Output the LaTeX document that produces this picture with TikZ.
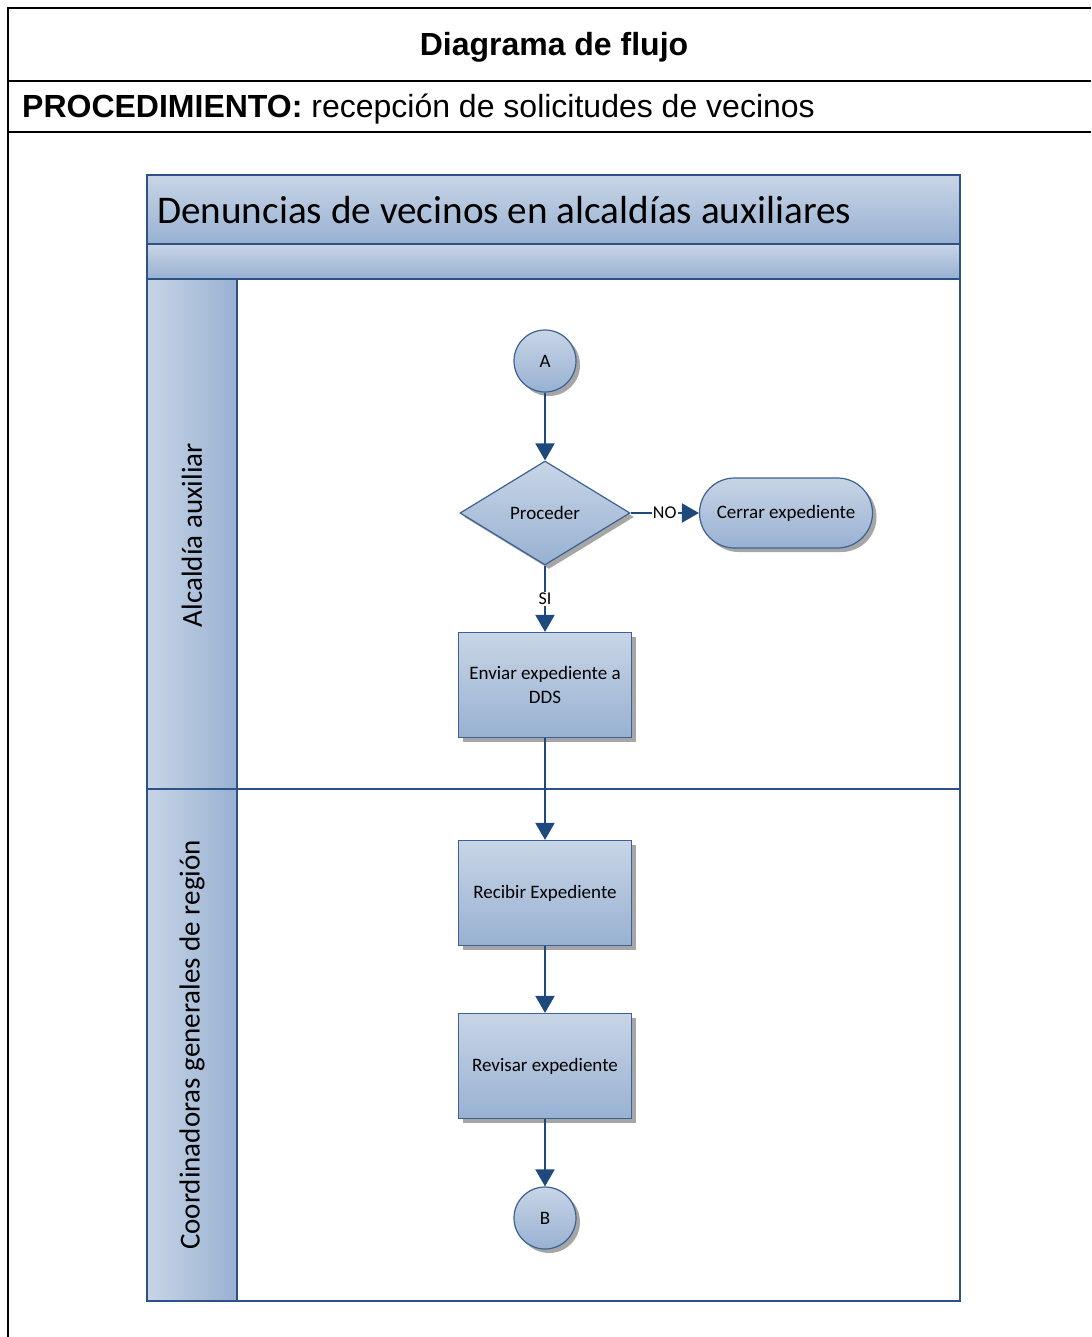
\documentclass[tikz,border=0pt]{standalone}
\usepackage{fontspec}
\setmainfont{Liberation Sans}
\newfontfamily\calfont{Carlito}
\usetikzlibrary{shapes.geometric,shadows,arrows.meta}

\definecolor{poolline}{HTML}{2E5287}
\definecolor{shadeTop}{HTML}{C8D5E6}
\definecolor{shadeBot}{HTML}{98B1D2}
\definecolor{flowblue}{HTML}{1F497D}
\definecolor{shapeline}{HTML}{3C6192}

\tikzset{
  frame/.style={line width=2.2pt, black},
  lanebox/.style={draw=poolline, line width=2pt},
  shapebase/.style={draw=shapeline, line width=1.2pt, top color=shadeTop, bottom color=shadeBot,
    drop shadow={shadow xshift=4pt, shadow yshift=-4pt, fill=black!35, opacity=1},
    font=\calfont\fontsize{19}{24}\selectfont, align=center, inner sep=2pt},
  procbox/.style={shapebase, rectangle, minimum width=173pt, minimum height=105pt},
  terminal/.style={shapebase, rectangle, rounded corners=35pt, minimum width=173pt, minimum height=70pt},
  connector/.style={shapebase, circle, minimum size=62pt, inner sep=0pt},
  decision/.style={shapebase, diamond, minimum width=170pt, minimum height=104pt, inner sep=0pt},
  flow/.style={draw=flowblue, line width=2pt, -{Triangle[width=19pt,length=17pt]}},
  flowlabel/.style={fill=white, inner sep=1pt, font=\calfont\fontsize{18}{20}\selectfont},
  lanelabel/.style={rotate=90, font=\calfont\fontsize{29}{34}\selectfont}
}

\begin{document}
\begin{tikzpicture}[x=1pt,y=-1pt]
\useasboundingbox (0,0) rectangle (1091,1337);

% document frame with heading rows
\draw[frame] (8,1337) -- (8,8) -- (1091,8);
\draw[frame] (8,81) -- (1091,81);
\draw[frame] (8,132) -- (1091,132);
\node[font=\bfseries\fontsize{32}{36}\selectfont] (heading) at (554,47) {Diagrama de flujo};
\node[anchor=west, inner sep=0pt, font=\fontsize{32}{36}\selectfont] (procname) at (22,109)
  {\textbf{PROCEDIMIENTO:} recepción de solicitudes de vecinos};

% swimlane pool
\shade[top color=shadeTop, bottom color=shadeBot] (147,175) rectangle (960,244);
\shade[top color=shadeTop, bottom color=shadeBot] (147,244) rectangle (960,279);
\shade[left color=shadeTop, right color=shadeBot] (147,279) rectangle (237,789);
\shade[left color=shadeTop, right color=shadeBot] (147,789) rectangle (237,1301);
\draw[lanebox] (147,175) rectangle (960,1301);
\draw[lanebox] (147,244) -- (960,244);
\draw[lanebox] (147,279) -- (960,279);
\draw[lanebox] (147,789) -- (960,789);
\draw[lanebox] (237,279) -- (237,1301);

\node[anchor=west, inner sep=0pt, font=\calfont\fontsize{39.2}{46}\selectfont] (pooltitle) at (157,210)
  {Denuncias de vecinos en alcaldías auxiliares};
\node[lanelabel] (lane1) at (192,535) {Alcaldía auxiliar};
\node[lanelabel] (lane2) at (192,1045) {Coordinadoras generales de región};

% flow shapes
\node[connector] (A) at (545,361) {A};
\node[decision] (dec) at (545,513) {Proceder};
\node[terminal] (close) at (786,513) {Cerrar expediente};
\node[procbox] (send) at (545,685) {Enviar expediente a\\DDS};
\node[procbox] (receive) at (545,893) {Recibir Expediente};
\node[procbox] (review) at (545,1066) {Revisar expediente};
\node[connector] (B) at (545,1218) {B};

% connectors
\draw[flow] (A) -- (dec);
\draw[flow] (dec) -- node[flowlabel] {NO} (close);
\draw[flow] (dec) -- node[flowlabel] {SI} (send);
\draw[flow] (send) -- (receive);
\draw[flow] (receive) -- (review);
\draw[flow] (review) -- (B);
\end{tikzpicture}
\end{document}
